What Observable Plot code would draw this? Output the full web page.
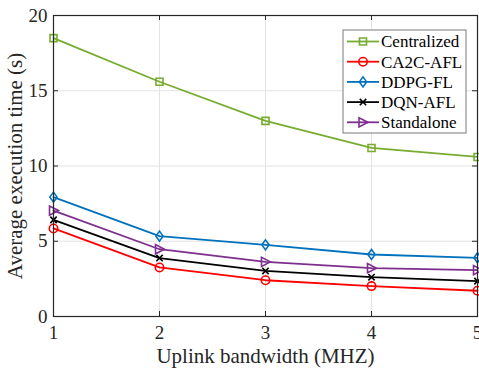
<!DOCTYPE html>
<html><head><meta charset="utf-8">
<script src="https://cdn.jsdelivr.net/npm/d3@7"></script>
<script src="https://cdn.jsdelivr.net/npm/@observablehq/plot@0.6"></script>
<style>
body{margin:0;background:#fff}
#chart{position:relative;width:479px;height:372px;overflow:hidden}
</style>
</head><body><div id="chart"></div>
<script>
const bandwidth = [1, 2, 3, 4, 5];
const series = ["Centralized", "CA2C-AFL", "DDPG-FL", "DQN-AFL", "Standalone"];
const centralized = [18.5, 15.6, 13.0, 11.2, 10.6];
const ca2cAfl = [5.85, 3.26, 2.41, 2.02, 1.71];
const ddpgFl = [7.93, 5.34, 4.76, 4.12, 3.9];
const dqnAfl = [6.42, 3.88, 3.03, 2.61, 2.35];
const standalone = [7.04, 4.47, 3.63, 3.21, 3.08];
const xTicks = [1, 2, 3, 4, 5];
const yTicks = [0, 5, 10, 15, 20];

const colors = ["#77AC30", "#FF0000", "#0072BD", "#000000", "#7E2F8E"];
// MATLAB-like marker shapes (fixed pixel geometry)
const mkSquare = {draw(c) { c.rect(-3.5, -3.5, 7, 7); }};
const mkCircle = {draw(c) { c.moveTo(4.2, 0); c.arc(0, 0, 4.2, 0, 2 * Math.PI); }};
const mkDiamond = {draw(c) { c.moveTo(0, -5); c.lineTo(3.6, 0); c.lineTo(0, 5); c.lineTo(-3.6, 0); c.closePath(); }};
const mkTimes = {draw(c) { c.moveTo(-3.2, -3.2); c.lineTo(3.2, 3.2); c.moveTo(3.2, -3.2); c.lineTo(-3.2, 3.2); }};
const mkTriRight = {draw(c) { c.moveTo(5, 0); c.lineTo(-4, -4.6); c.lineTo(-4, 4.6); c.closePath(); }};
const symbols = [mkSquare, mkCircle, mkDiamond, mkTimes, mkTriRight];
const values = [centralized, ca2cAfl, ddpgFl, dqnAfl, standalone];
const rows = series.flatMap((s, i) => values[i].map((v, j) => ({series: s, x: bandwidth[j], y: v})));

const W = 479, H = 372, mL = 53, mR = 2, mT = 15, mB = 56;
const plotH = H - mT - mB;
const tick = 5;
const frameColor = "#262626";

const chart = Plot.plot({
  width: W, height: H,
  marginLeft: mL, marginRight: mR, marginTop: mT, marginBottom: mB,
  style: {fontFamily: "Liberation Serif", fontSize: "19px", background: "white", color: "#262626", overflow: "visible"},
  x: {domain: [1, 5]},
  y: {domain: [0, 20]},
  color: {domain: series, range: colors},
  symbol: {domain: series, range: symbols},
  marks: [
    Plot.gridX(xTicks, {stroke: "#e3e3e3", strokeOpacity: 1}),
    Plot.gridY(yTicks, {stroke: "#e3e3e3", strokeOpacity: 1}),
    Plot.lineY(rows, {x: "x", y: "y", z: "series", stroke: "series", strokeWidth: 1.8}),
    Plot.dot(rows, {x: "x", y: "y", stroke: "series", symbol: "series", r: 4, strokeWidth: 1.6, fill: "none"}),
    Plot.tickX(xTicks, {x: d => d, insetTop: plotH - tick, stroke: frameColor}),
    Plot.tickX(xTicks, {x: d => d, insetBottom: plotH - tick, stroke: frameColor}),
    Plot.tickY(yTicks, {y: d => d, insetRight: (W - mL - mR) - tick, stroke: frameColor}),
    Plot.tickY(yTicks, {y: d => d, insetLeft: (W - mL - mR) - tick, stroke: frameColor}),
    Plot.frame({stroke: frameColor, strokeWidth: 1.2}),
    Plot.axisX(xTicks, {tickSize: 0, tickPadding: 9, label: null, fill: "#262626"}),
    Plot.axisY(yTicks, {tickSize: 0, tickPadding: 6, label: null, fill: "#262626"}),
    Plot.text(["Uplink bandwidth (MHZ)"], {frameAnchor: "bottom", dy: 40, fontSize: 21, fill: "#262626", lineAnchor: "middle", textAnchor: "middle"}),
    Plot.text(["Average execution time (s)"], {frameAnchor: "left", dx: -38, rotate: -90, fontSize: 21, fill: "#262626", lineAnchor: "middle", textAnchor: "middle"})
  ]
});
document.getElementById("chart").appendChild(chart);

// Legend inside the axes (top-right), drawn with d3 into the plot SVG
const svg = d3.select(chart);
const lg = svg.append("g").attr("font-family", "Liberation Serif").attr("font-size", 17).attr("text-anchor", "start");
const lx = 343, ly = 30, lw = 123, lh = 103, rowH = 20.2;
lg.append("rect").attr("x", lx).attr("y", ly).attr("width", lw).attr("height", lh)
  .attr("fill", "white").attr("stroke", "#7a7a7a").attr("stroke-width", 1);
series.forEach((s, i) => {
  const cy = ly + 11.5 + i * rowH;
  lg.append("line").attr("x1", lx + 4).attr("x2", lx + 36).attr("y1", cy).attr("y2", cy)
    .attr("stroke", colors[i]).attr("stroke-width", 1.8);
  lg.append("path").attr("d", d3.symbol(symbols[i])())
    .attr("transform", `translate(${lx + 20},${cy})`)
    .attr("fill", "none").attr("stroke", colors[i]).attr("stroke-width", 1.6);
  lg.append("text").attr("x", lx + 38).attr("y", cy).attr("dy", "0.35em")
    .attr("fill", "#000").attr("text-anchor", "start").text(s);
});
</script>
</body></html>
